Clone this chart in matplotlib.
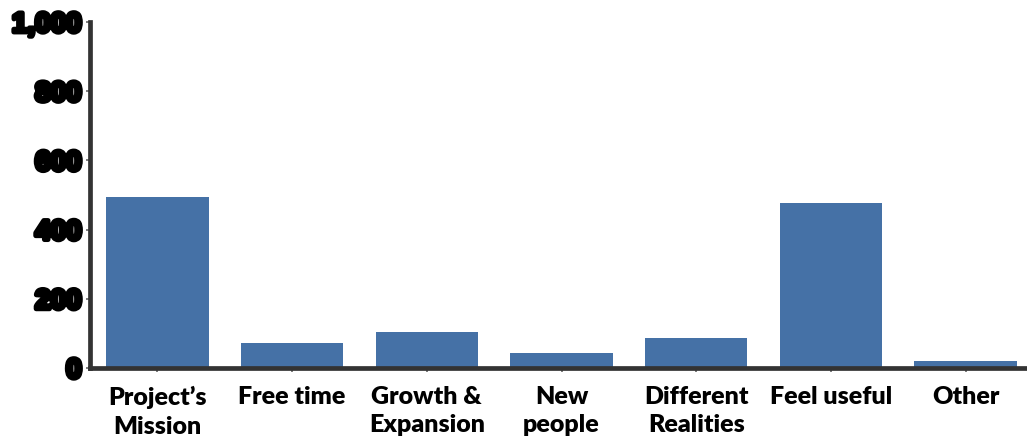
import matplotlib.pyplot as plt
import matplotlib.patheffects as pe
from matplotlib.ticker import StrMethodFormatter

# Reasons given for volunteering
categories = ["Project\u2019s\nMission", "Free time", "Growth &\nExpansion", "New\npeople",
              "Different\nRealities", "Feel useful", "Other"]
responses = [495, 72, 105, 43, 87, 477, 20]
y_ticks = [0, 200, 400, 600, 800, 1000]

BAR_COLOR = "#4571a6"
AXIS_COLOR = "#333333"


def main():
    fig = plt.figure(figsize=(10.27, 4.45), dpi=100)
    ax = fig.add_axes([90 / 1027, 77 / 445, 943 / 1027, 346 / 445])

    x = range(len(categories))
    ax.bar(x, responses, width=0.76, color=BAR_COLOR, zorder=2)

    ax.set_xlim(-0.5, len(categories) - 0.5)
    ax.set_ylim(0, 1000)
    ax.set_yticks(y_ticks)
    ax.yaxis.set_major_formatter(StrMethodFormatter("{x:,.0f}"))
    ax.set_xticks(list(x))
    ax.set_xticklabels(categories, fontfamily="Lato", fontweight="heavy",
                       fontsize=18, linespacing=1.35)

    for side in ("top", "right"):
        ax.spines[side].set_visible(False)
    for side in ("left", "bottom"):
        ax.spines[side].set_color(AXIS_COLOR)
        ax.spines[side].set_linewidth(3.4)
        ax.spines[side].set_zorder(3)
    ax.spines["left"].set_bounds(0, 1000)

    ax.tick_params(axis="x", length=3, width=1.2, color="#666666", pad=10)
    ax.tick_params(axis="y", length=3, width=1.2, color="#666666", pad=3)

    for lbl in ax.get_yticklabels():
        lbl.set_fontfamily("Liberation Sans")
        lbl.set_fontweight("bold")
        lbl.set_fontsize(20)
        lbl.set_path_effects([pe.withStroke(linewidth=3.5, foreground="black")])

    fig.savefig("out.png", dpi=100)


if __name__ == "__main__":
    main()
